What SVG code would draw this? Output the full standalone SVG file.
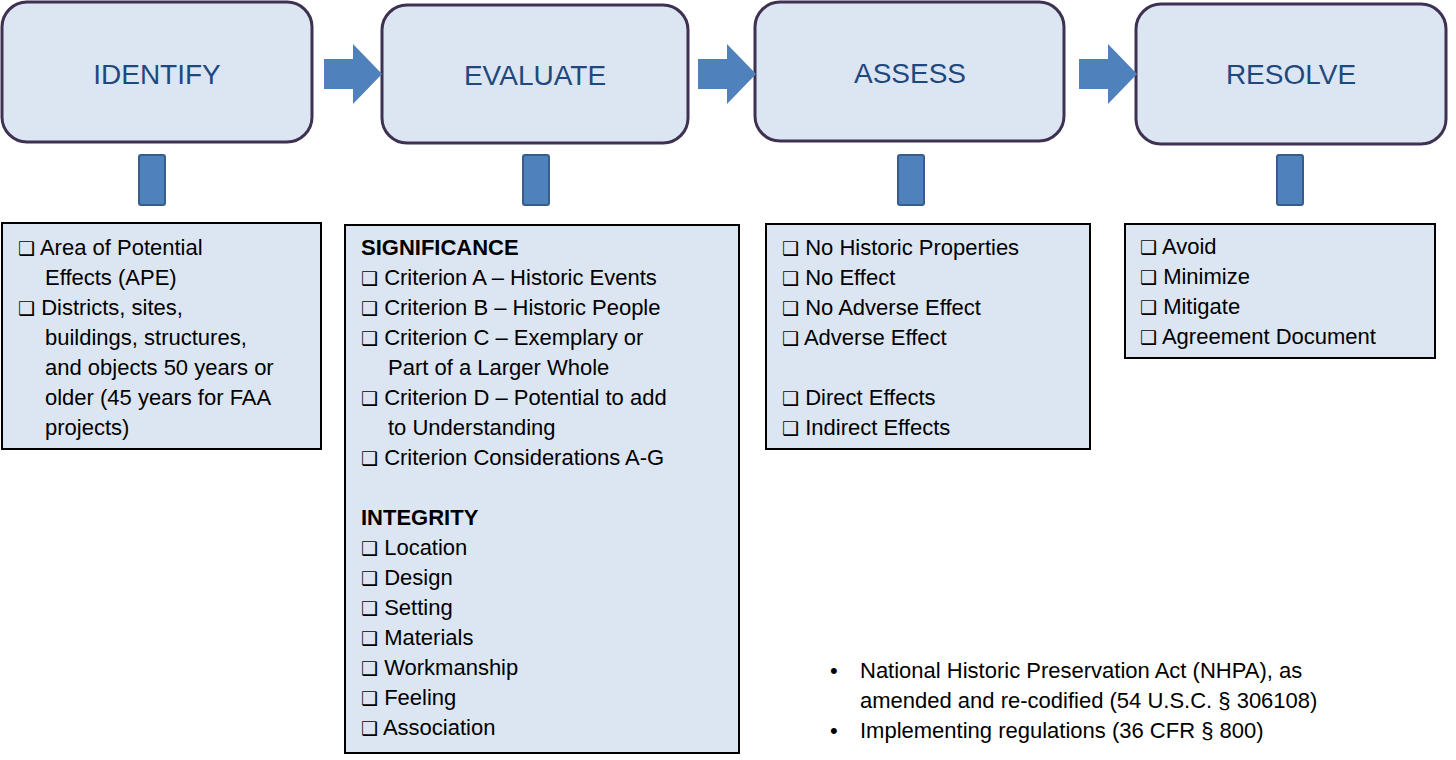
<svg xmlns="http://www.w3.org/2000/svg" width="1456" height="760" viewBox="0 0 1456 760">
<style>
.step{fill:#dce6f2;stroke:#3f3151;stroke-width:3}
.title{font-family:"Liberation Sans",Arial,sans-serif;font-size:28px;fill:#1f497d;text-anchor:middle}
.stem{fill:#4f81bd;stroke:#385d8a;stroke-width:2}
.arrow{fill:#4f81bd}
.box{fill:#dce6f2;stroke:#000;stroke-width:2}
.t{font-family:"Liberation Sans",Arial,sans-serif;font-size:22px;fill:#000}
.b{font-weight:bold}
.cb{font-family:"DejaVu Sans",sans-serif;font-size:19px}
</style>
<rect width="1456" height="760" fill="#fff"/>
<g id="identify"><rect class="step" x="2" y="2" width="310" height="140" rx="25"/><text class="title" x="157" y="84">IDENTIFY</text></g>
<g id="evaluate"><rect class="step" x="382" y="5" width="306" height="138" rx="25"/><text class="title" x="535" y="85">EVALUATE</text></g>
<g id="assess"><rect class="step" x="755" y="2" width="309" height="139" rx="25"/><text class="title" x="910" y="83">ASSESS</text></g>
<g id="resolve"><rect class="step" x="1136" y="4" width="310" height="140" rx="25"/><text class="title" x="1291" y="84">RESOLVE</text></g>
<g id="connectors">
<polygon class="arrow" points="324,59 353,59 353,44 382,74 353,104 353,89 324,89"/>
<polygon class="arrow" points="698,59 727,59 727,44 756,74 727,104 727,89 698,89"/>
<polygon class="arrow" points="1079,59 1108,59 1108,44 1137,74 1108,104 1108,89 1079,89"/>
<rect class="stem" x="139" y="155" width="26" height="50" rx="2"/>
<rect class="stem" x="523" y="155" width="26" height="50" rx="2"/>
<rect class="stem" x="898" y="155" width="26" height="50" rx="2"/>
<rect class="stem" x="1277" y="155" width="26" height="50" rx="2"/>
</g>
<g id="identify-list"><rect class="box" x="2" y="223" width="319" height="226"/>
<g class="t"><text x="18" y="255"><tspan class="cb">❑</tspan> Area of Potential</text>
<text x="45" y="285">Effects (APE)</text>
<text x="18" y="315"><tspan class="cb">❑</tspan> Districts, sites,</text>
<text x="45" y="345">buildings, structures,</text>
<text x="45" y="375">and objects 50 years or</text>
<text x="45" y="405">older (45 years for FAA</text>
<text x="45" y="435">projects)</text></g></g>
<g id="evaluate-list"><rect class="box" x="345" y="225" width="394" height="528"/>
<g class="t"><text class="b" x="361" y="255">SIGNIFICANCE</text>
<text x="361" y="285"><tspan class="cb">❑</tspan> Criterion A – Historic Events</text>
<text x="361" y="315"><tspan class="cb">❑</tspan> Criterion B – Historic People</text>
<text x="361" y="345"><tspan class="cb">❑</tspan> Criterion C – Exemplary or</text>
<text x="388" y="375">Part of a Larger Whole</text>
<text x="361" y="405"><tspan class="cb">❑</tspan> Criterion D – Potential to add</text>
<text x="388" y="435">to Understanding</text>
<text x="361" y="465"><tspan class="cb">❑</tspan> Criterion Considerations A-G</text>
<text class="b" x="361" y="525">INTEGRITY</text>
<text x="361" y="555"><tspan class="cb">❑</tspan> Location</text>
<text x="361" y="585"><tspan class="cb">❑</tspan> Design</text>
<text x="361" y="615"><tspan class="cb">❑</tspan> Setting</text>
<text x="361" y="645"><tspan class="cb">❑</tspan> Materials</text>
<text x="361" y="675"><tspan class="cb">❑</tspan> Workmanship</text>
<text x="361" y="705"><tspan class="cb">❑</tspan> Feeling</text>
<text x="361" y="735"><tspan class="cb">❑</tspan> Association</text></g></g>
<g id="assess-list"><rect class="box" x="766" y="224" width="324" height="225"/>
<g class="t"><text x="782" y="255"><tspan class="cb">❑</tspan> No Historic Properties</text>
<text x="782" y="285"><tspan class="cb">❑</tspan> No Effect</text>
<text x="782" y="315"><tspan class="cb">❑</tspan> No Adverse Effect</text>
<text x="782" y="345"><tspan class="cb">❑</tspan> Adverse Effect</text>
<text x="782" y="405"><tspan class="cb">❑</tspan> Direct Effects</text>
<text x="782" y="435"><tspan class="cb">❑</tspan> Indirect Effects</text></g></g>
<g id="resolve-list"><rect class="box" x="1125" y="224" width="310" height="134"/>
<g class="t"><text x="1140" y="254"><tspan class="cb">❑</tspan> Avoid</text>
<text x="1140" y="284"><tspan class="cb">❑</tspan> Minimize</text>
<text x="1140" y="314"><tspan class="cb">❑</tspan> Mitigate</text>
<text x="1140" y="344"><tspan class="cb">❑</tspan> Agreement Document</text></g></g>
<g id="notes" class="t">
<text x="830" y="678">•</text><text x="860" y="678">National Historic Preservation Act (NHPA), as</text>
<text x="860" y="708">amended and re-codified (54 U.S.C. § 306108)</text>
<text x="830" y="738">•</text><text x="860" y="738">Implementing regulations (36 CFR § 800)</text>
</g>
</svg>
